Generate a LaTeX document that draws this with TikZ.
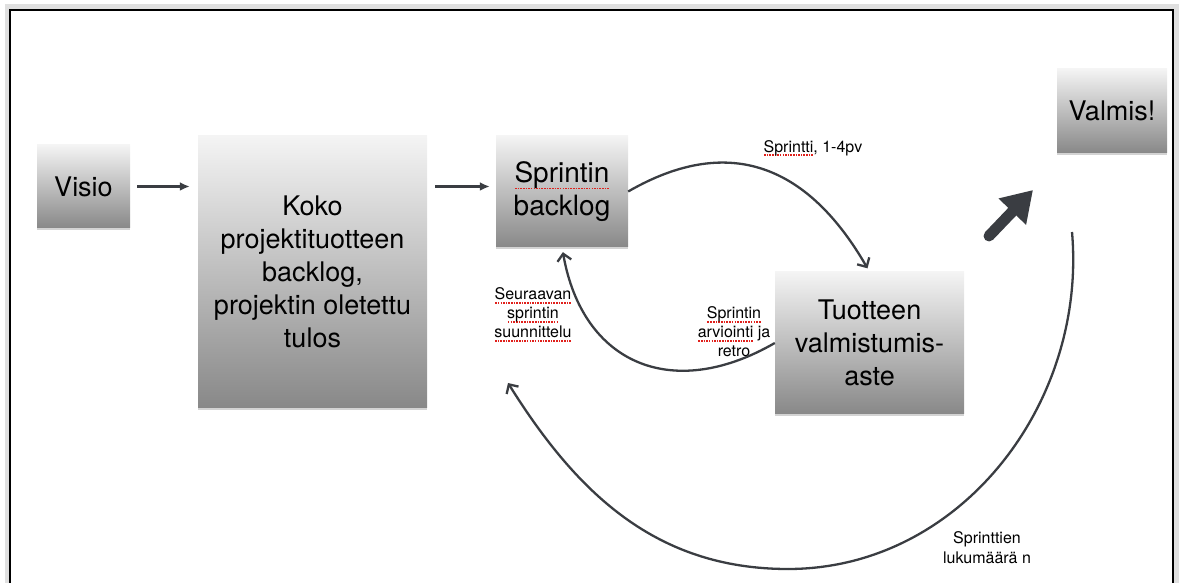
\documentclass[tikz,border=0pt]{standalone}
\usepackage{fontspec}
\setmainfont{TeX Gyre Heros}
\usepackage{xcolor}
\usetikzlibrary{arrows.meta,calc,positioning,shadows}
\definecolor{linegray}{HTML}{3A3D42}
\definecolor{boxlight}{HTML}{F4F4F4}
\definecolor{boxdark}{HTML}{888888}
\definecolor{spellred}{HTML}{E0201B}
\newsavebox\spellbox
\newcommand\spellmark[1]{\sbox\spellbox{#1}\leavevmode\rlap{\color{spellred}\raisebox{-0.45ex}[0pt][0pt]{\hbox to\wd\spellbox{\xleaders\hbox to 2.6pt{\hss\rule{1.6pt}{1.5pt}\hss}\hfill}}}\usebox\spellbox}

\begin{document}
\begin{tikzpicture}[x=1pt,y=1pt,>=Latex,
  stagebox/.style={top color=boxlight,bottom color=boxdark,
    drop shadow={shadow xshift=0pt,shadow yshift=-2pt,opacity=0.35},
    inner sep=0pt,align=center,font=\fontsize{27}{33}\selectfont},
  flow/.style={linegray,line width=2.3pt},
  note/.style={align=center,font=\fontsize{16}{19}\selectfont}]
\useasboundingbox (0,0) rectangle (1180,583);
% frame
\draw[black!12,line width=5pt] (7,-5)--(7,576)--(1176,576)--(1176,-5);
\draw[line width=2.5pt] (10,-5)--(10,573)--(1173,573)--(1173,-5);
% boxes
\node[stagebox,minimum width=93pt,minimum height=83pt] (visio) at (83.5,396.5) {Visio};
\node[stagebox,minimum width=229pt,minimum height=272pt] (koko) at (312.5,311) {Koko\\projektituotteen\\backlog,\\projektin oletettu\\tulos};
\node[stagebox,minimum width=132pt,minimum height=111pt,font=\fontsize{28}{33}\selectfont] (sprint) at (562,391.5) {\spellmark{Sprintin}\\backlog};
\node[stagebox,minimum width=189pt,minimum height=142pt] (tuote) at (869.5,240) {Tuotteen\\valmistumis-\\aste};
\node[stagebox,minimum width=110pt,minimum height=84pt] (valmis) at (1112,472) {Valmis!};
% labels
\node[note] (sprintlabel) at (813,435) {\spellmark{Sprintti}, 1-4pv};
\node[note] (planlabel) at (533,270) {\spellmark{Seuraavan}\\\spellmark{sprintin}\\\spellmark{suunnittelu}};
\node[note] (retrolabel) at (734,251) {\spellmark{Sprintin}\\\spellmark{arviointi} ja\\retro};
\node[note,font=\fontsize{16}{20}\selectfont] (countlabel) at (987,35) {Sprinttien\\lukumäärä n};
% free ends
\coordinate (loopstart) at (1072,351);
\coordinate (loopbottom) at (788,14);
\coordinate (loopend) at (508,200);
\coordinate (bigtail) at (989,347);
\coordinate (bigtip) at (1033,393);
% arrows
\draw[flow,-{Latex[length=10pt,width=9pt]},shorten <=7pt,shorten >=8pt] (visio) -- (visio -| koko.west);
\draw[flow,-{Latex[length=10pt,width=9pt]},shorten <=8pt,shorten >=6pt] (visio -| koko.east) -- (visio -| sprint.west);
\draw[flow,-{Straight Barb[length=7pt,width=14pt]},shorten >=4pt] (sprint.east) to[out=30,in=120,looseness=1.2] (tuote.north);
\draw[flow,-{Straight Barb[length=7pt,width=14pt]},shorten >=5pt] (tuote.west) to[out=210,in=-80,looseness=1.3] (sprint.south);
\draw[flow] (loopstart) to[out=-85,in=0] (loopbottom);
\draw[flow,-{Straight Barb[length=7pt,width=14pt]}] (loopbottom) to[out=180,in=-58] (loopend);
\draw[linegray,line width=11pt,line cap=round,-{Triangle[length=30pt,width=36pt]}] (bigtail) -- (bigtip);
\end{tikzpicture}
\end{document}
